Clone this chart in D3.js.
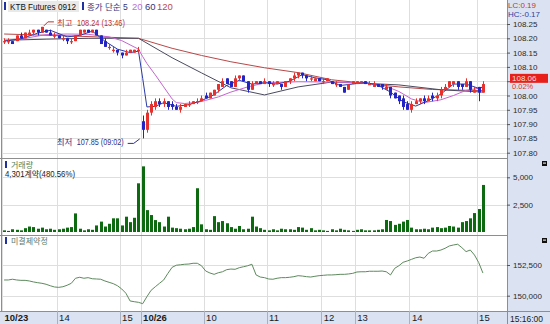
<!DOCTYPE html>
<html><head><meta charset="utf-8">
<script src="https://cdn.jsdelivr.net/npm/d3@7"></script>
<style>
body{margin:0;background:#fff}
svg{display:block}
text{font-family:"Liberation Sans","Noto Sans CJK KR",sans-serif}
</style>
</head><body>
<svg id="c" width="550" height="324"></svg>
<script>
// ---------------- DATA ----------------
const openP=[108.19,108.19,108.19,108.19,108.21,108.20,108.21,108.22,108.23,108.22,108.23,108.22,108.21,108.21,108.20,108.20,108.19,108.19,108.21,108.22,108.23,108.22,108.23,108.21,108.19,108.17,108.16,108.16,108.15,108.14,108.15,108.15,108.16,
107.91,107.88,107.94,107.96,107.98,107.97,107.98,107.97,107.96,107.95,107.96,107.97,107.97,107.98,107.98,
108.00,107.99,108.00,108.02,108.03,108.06,108.05,108.03,108.06,108.07,108.05,108.02,108.04,108.05,108.04,108.05,108.04,108.04,108.04,108.03,108.05,108.06,108.07,108.08,108.07,108.06,108.05,108.06,108.05,108.05,108.05,108.04,108.04,108.03,108.02,108.04,108.04,108.05,108.05,108.04,108.03,108.04,108.04,108.02,108.03,108.01,108.00,
107.99,107.97,107.95,107.97,107.98,107.99,107.98,108.00,107.99,108.00,108.02,108.03,108.04,108.05,108.04,108.03,108.05,108.01,108.03,108.01];
const highP=[108.20,108.20,108.19,108.21,108.22,108.22,108.23,108.23,108.23,108.24,108.23,108.23,108.22,108.21,108.21,108.20,108.20,108.21,108.23,108.23,108.23,108.23,108.23,108.21,108.20,108.18,108.17,108.16,108.15,108.16,108.16,108.16,108.17,
107.93,107.95,107.98,107.99,107.99,107.99,107.98,107.98,107.97,107.97,107.97,107.98,107.98,107.99,108.00,
108.01,108.01,108.02,108.04,108.06,108.06,108.05,108.07,108.07,108.07,108.05,108.05,108.05,108.05,108.06,108.05,108.05,108.05,108.04,108.05,108.06,108.08,108.08,108.08,108.07,108.07,108.06,108.06,108.06,108.06,108.05,108.05,108.04,108.03,108.04,108.05,108.05,108.05,108.05,108.05,108.05,108.04,108.04,108.04,108.03,108.01,108.00,
108.00,107.98,107.98,107.99,107.99,108.00,108.00,108.01,108.01,108.03,108.04,108.05,108.05,108.05,108.04,108.06,108.05,108.03,108.03,108.05];
const lowP=[108.18,108.18,108.18,108.19,108.20,108.20,108.21,108.21,108.21,108.22,108.22,108.21,108.20,108.20,108.19,108.18,108.18,108.19,108.21,108.22,108.22,108.22,108.21,108.18,108.17,108.16,108.15,108.14,108.13,108.14,108.15,108.15,108.15,
107.85,107.87,107.93,107.95,107.96,107.96,107.95,107.95,107.95,107.94,107.96,107.96,107.97,107.97,107.98,
107.99,107.99,108.00,108.01,108.03,108.04,108.03,108.03,108.05,108.05,108.01,108.02,108.04,108.04,108.04,108.03,108.03,108.04,108.02,108.03,108.04,108.05,108.06,108.06,108.05,108.05,108.05,108.05,108.04,108.05,108.04,108.03,108.03,108.01,108.02,108.04,108.04,108.04,108.04,108.04,108.03,108.03,108.02,108.02,107.99,107.99,107.97,
107.95,107.95,107.94,107.97,107.97,107.97,107.98,107.98,107.98,107.99,108.02,108.03,108.03,108.02,108.02,108.03,108.01,108.01,107.98,108.01];
const closeP=[108.19,108.19,108.18,108.21,108.20,108.22,108.22,108.23,108.22,108.24,108.22,108.21,108.21,108.20,108.20,108.19,108.19,108.21,108.23,108.23,108.22,108.23,108.21,108.18,108.17,108.17,108.16,108.15,108.14,108.15,108.16,108.16,108.16,
107.88,107.94,107.97,107.98,107.97,107.98,107.96,107.96,107.95,107.96,107.97,107.97,107.98,107.98,107.99,
107.99,108.01,108.02,108.04,108.05,108.04,108.03,108.06,108.07,108.05,108.02,108.04,108.05,108.04,108.05,108.04,108.04,108.05,108.03,108.05,108.06,108.07,108.08,108.07,108.06,108.06,108.06,108.05,108.05,108.06,108.04,108.04,108.03,108.01,108.04,108.05,108.05,108.05,108.04,108.04,108.04,108.03,108.03,108.03,108.00,107.99,107.98,
107.96,107.95,107.97,107.98,107.99,107.98,107.99,107.99,108.00,108.02,108.03,108.05,108.05,108.03,108.03,108.05,108.02,108.02,108.01,108.04];
const volume=[150,100,250,200,150,350,500,450,300,400,250,300,200,250,300,400,450,1700,300,150,250,200,600,950,500,750,1250,1250,600,1400,900,1300,4450,
6000,2000,1550,1090,900,500,1400,400,350,300,250,300,450,4000,700,
250,200,1450,900,1000,800,450,300,550,250,300,1400,500,350,200,150,250,150,300,250,250,200,450,400,200,350,150,200,150,100,250,150,300,200,150,100,200,250,150,150,150,200,250,1100,1000,650,750,
950,1100,400,250,250,300,250,400,450,350,400,550,500,400,900,1000,1250,1730,2100,4300];
const openInterest=[151280,151280,151340,151280,151250,151250,151200,151120,151060,151010,150930,150810,150710,150680,150730,150850,151010,151420,151500,151420,151470,151380,151360,151340,151200,151090,150980,150810,150550,150200,149570,149510,149460,
149350,149920,150440,150730,151010,151280,151820,152310,152480,152520,152560,152580,152640,152640,152440,
152010,151850,151740,151870,151950,152120,152170,152150,152280,152360,152440,152560,151690,151520,151470,151360,151340,151420,151470,151470,151500,151550,151630,151600,151550,151520,151580,151630,151660,151690,151690,151710,151740,151740,151770,151820,151930,151950,151950,151990,151990,151990,152010,151950,151690,152230,152440,
152720,152830,152960,153090,153150,153050,153450,153640,153640,153720,153860,154050,154130,154190,153910,153590,153720,153310,152700,151850];
// moving averages: [bar index, value]
const ma5=[[0,108.19],[4,108.198],[8,108.218],[11,108.228],[15,108.205],[18,108.21],[21,108.225],[24,108.19],[27,108.162],[30,108.15],[32,108.155],[33,108.06],[34,107.96],[36,107.962],[38,107.975],[41,107.962],[44,107.968],[47,107.982],[50,108.003],[53,108.035],[56,108.053],[59,108.04],[62,108.045],[65,108.04],[68,108.05],[71,108.073],[74,108.062],[77,108.055],[80,108.035],[83,108.04],[86,108.046],[89,108.036],[92,108.012],[95,107.978],[98,107.963],[101,107.982],[104,108.005],[107,108.04],[110,108.04],[113,108.025],[114,108.03]];
const ma20=[[0,108.193],[5,108.200],[10,108.213],[15,108.215],[20,108.214],[25,108.205],[28,108.192],[32,108.162],[33,108.136],[34,108.112],[36,108.072],[38,108.030],[40,107.988],[41,107.975],[43,107.972],[46,107.976],[48,107.983],[51,107.995],[54,108.012],[58,108.030],[62,108.044],[70,108.048],[78,108.047],[86,108.044],[91,108.032],[94,108.014],[97,107.988],[100,107.975],[104,107.985],[107,108.000],[110,108.018],[114,108.028]];
const ma60=[[0,108.193],[10,108.197],[20,108.200],[32,108.200],[40,108.132],[47,108.079],[54,108.027],[62,108.002],[70,108.030],[78,108.047],[84,108.044],[94,108.037],[104,108.020],[114,108.012]];
const ma120=[[0,108.215],[16,108.208],[32,108.200],[40,108.165],[47,108.140],[54,108.118],[62,108.097],[70,108.080],[78,108.055],[85,108.044],[94,108.030],[102,108.021],[114,108.017]];
const priceTicks=[107.80,107.85,107.90,107.95,108.00,108.05,108.10,108.15,108.20,108.25];
const volumeTicks=[2500,5000];
const oiTicks=[150000,152500];
const timeTickIndex=[0,13,28,33,48,63,76,84,97,113];
const timeTickLabels=["10/23","14","15","10/26","10","11","12","13","14","15"];
const boldTimeLabels=["10/23","10/26"];
const lastTimeLabel="15:16:00";
const currentPrice=108.06, changeText="0.02%";
const lcText="LC:0.19", hcText="HC:-0.17";
const titleText="KTB Futures 0912";
const maLegend=["종가 단순 5","20","60","120"];
const maColors=["#34347a","#c070d0","#34347a","#c04848"];
const volumeTitle="거래량", volumeNote="4,301계약(480.56%)";
const oiTitle="미결제약정";
const highNote={i:9,price:108.24,label:"최고",rest:"108.24 (13:46)"};
const lowNote={i:33,price:107.85,label:"최저",rest:"107.85 (09:02)"};

// ---------------- SCALES ----------------
const svg=d3.select("#c");
const L=2,R=507;
const x=d3.scaleLinear().domain([0,120.24]).range([L,R]);
const cx=i=>x(i+0.5);
const yP=d3.scaleLinear().domain([107.80,108.25]).range([152.7,24]);
const yV=d3.scaleLinear().domain([0,5000]).range([232,177.3]);
const yOI=d3.scaleLinear().domain([150000,152500]).range([295.7,265]);
const axisBg="#dbe2f2";
const axFont=8;

// backgrounds
svg.append("rect").attr("x",0).attr("y",0).attr("width",550).attr("height",324).attr("fill","#fff");
svg.append("rect").attr("x",R).attr("y",0).attr("width",550-R).attr("height",324).attr("fill",axisBg);
svg.append("rect").attr("x",0).attr("y",311).attr("width",R).attr("height",13).attr("fill",axisBg);

// grids
const g=svg.append("g");
const gridC="#dedede";
g.selectAll(".vg").data(timeTickIndex).join("line")
 .attr("x1",d=>Math.round(x(d))+0.5).attr("x2",d=>Math.round(x(d))+0.5)
 .attr("y1",0).attr("y2",311).attr("stroke",gridC);
g.selectAll(".hp").data(priceTicks).join("line")
 .attr("x1",L).attr("x2",R).attr("y1",d=>Math.round(yP(d))+0.5).attr("y2",d=>Math.round(yP(d))+0.5).attr("stroke",gridC);
g.selectAll(".hv").data(volumeTicks).join("line")
 .attr("x1",L).attr("x2",R).attr("y1",d=>Math.round(yV(d))+0.5).attr("y2",d=>Math.round(yV(d))+0.5).attr("stroke",gridC);
g.selectAll(".ho").data(oiTicks).join("line")
 .attr("x1",L).attr("x2",R).attr("y1",d=>Math.round(yOI(d))+0.5).attr("y2",d=>Math.round(yOI(d))+0.5).attr("stroke",gridC);

// panel borders
const bc="#8e8e8e";
[[0,158.5,R,158.5],[0,235.5,R,235.5],[0,311.5,550,311.5],[R+0.5,0,R+0.5,324],[1.5,0,1.5,311]].forEach(l=>{
  svg.append("line").attr("x1",l[0]).attr("y1",l[1]).attr("x2",l[2]).attr("y2",l[3]).attr("stroke",bc);
});
svg.selectAll(".ts").data(timeTickIndex.slice(1)).join("line")
 .attr("x1",d=>Math.round(x(d))+0.5).attr("x2",d=>Math.round(x(d))+0.5)
 .attr("y1",311).attr("y2",324).attr("stroke","#a8b0c4");

// ---------------- MOVING AVERAGES ----------------
const line=d3.line().x(d=>cx(d[0])).y(d=>yP(d[1]));
[[ma120,"#b84848"],[ma60,"#4a4a60"],[ma20,"#c466d0"],[ma5,"#2a3aa8"]].forEach(([d,c])=>{
  svg.append("path").datum(d).attr("d",line).attr("fill","none").attr("stroke",c).attr("stroke-width",1);
});

// ---------------- CANDLES ----------------
const up="#e8302c", dn="#2424c4";
const bars=d3.range(closeP.length);
const cg=svg.append("g");
cg.selectAll(".wk").data(bars).join("line")
 .attr("x1",i=>Math.round(cx(i))+0.5).attr("x2",i=>Math.round(cx(i))+0.5)
 .attr("y1",i=>yP(highP[i])).attr("y2",i=>yP(lowP[i]))
 .attr("stroke",i=>closeP[i]>=openP[i]?up:dn);
cg.selectAll(".bd").data(bars).join("rect")
 .attr("x",i=>Math.round(cx(i))-1).attr("width",3)
 .attr("y",i=>yP(Math.max(openP[i],closeP[i])))
 .attr("height",i=>Math.max(1.2,yP(Math.min(openP[i],closeP[i]))-yP(Math.max(openP[i],closeP[i]))))
 .attr("fill",i=>closeP[i]>=openP[i]?up:dn);

// annotations
const hx=cx(highNote.i), hy=yP(highNote.price);
svg.append("polyline").attr("points",`${hx+2},${hy-1} ${hx+6},${hy-5} ${hx+12},${hy-5}`).attr("fill","none").attr("stroke","#c03030");
svg.append("text").attr("x",hx+15).attr("y",hy-1).attr("fill","#c03030").attr("font-size",8.5)
 .attr("font-family","Noto Sans CJK KR").text(highNote.label);
svg.append("text").attr("x",hx+35).attr("y",hy-1).attr("fill","#c03030").attr("font-size",9)
 .attr("textLength",48).attr("lengthAdjust","spacingAndGlyphs").text(highNote.rest);
const lx=cx(lowNote.i), ly=yP(lowNote.price);
svg.append("polyline").attr("points",`${lx-15},${ly+5} ${lx-9},${ly+5} ${lx-3},${ly+0.5}`).attr("fill","none").attr("stroke","#30308a");
svg.append("text").attr("x",lx-86).attr("y",ly+6.5).attr("fill","#30308a").attr("font-size",8.5)
 .attr("font-family","Noto Sans CJK KR").text(lowNote.label);
svg.append("text").attr("x",lx-66).attr("y",ly+6.5).attr("fill","#30308a").attr("font-size",9)
 .attr("textLength",47).attr("lengthAdjust","spacingAndGlyphs").text(lowNote.rest);

// ---------------- VOLUME ----------------
svg.append("g").selectAll("rect").data(bars).join("rect")
 .attr("x",i=>Math.round(cx(i))-1).attr("width",3)
 .attr("y",i=>yV(volume[i])).attr("height",i=>yV(0)-yV(volume[i]))
 .attr("fill","#0d6a10");

// ---------------- OPEN INTEREST ----------------
svg.append("path").datum(openInterest)
 .attr("d",d3.line().x((d,i)=>cx(i)).y(d=>yOI(d)))
 .attr("fill","none").attr("stroke","#5d8a5d").attr("stroke-width",1);

// ---------------- AXES ----------------
function styleAxis(sel){
  sel.select(".domain").remove();
  sel.selectAll(".tick line").attr("stroke","#555");
  sel.selectAll(".tick text").attr("fill","#2a2a2a").attr("font-size",axFont)
    .attr("font-family","Liberation Sans, sans-serif");
}
const pAx=svg.append("g").attr("transform",`translate(${R},0)`)
 .call(d3.axisRight(yP).tickValues(priceTicks).tickSize(3).tickPadding(3).tickFormat(d3.format(".2f")));
styleAxis(pAx);
pAx.selectAll(".tick").filter(d=>Math.abs(yP(d)-yP(currentPrice))<7).select("text").remove();
const vAx=svg.append("g").attr("transform",`translate(${R},0)`)
 .call(d3.axisRight(yV).tickValues(volumeTicks).tickSize(3).tickPadding(3).tickFormat(d3.format(",")));
styleAxis(vAx);
const oAx=svg.append("g").attr("transform",`translate(${R},0)`)
 .call(d3.axisRight(yOI).tickValues(oiTicks).tickSize(3).tickPadding(3).tickFormat(d3.format(",")));
styleAxis(oAx);
const tAx=svg.append("g").attr("transform","translate(0,311)")
 .call(d3.axisBottom(x).tickValues(timeTickIndex).tickSize(0).tickFormat((d,i)=>timeTickLabels[i]));
tAx.select(".domain").remove();
tAx.selectAll(".tick text").attr("text-anchor","start").attr("x",2).attr("y",0).attr("dy","10.3px")
 .attr("font-size",9.5).attr("fill","#1a1a1a")
 .attr("font-family","Liberation Sans, sans-serif")
 .attr("font-weight",d=>boldTimeLabels.includes(timeTickLabels[timeTickIndex.indexOf(d)])?"bold":"normal");
svg.append("text").attr("x",R+3).attr("y",321.5).attr("font-size",9).attr("fill","#1a1a1a")
 .attr("textLength",33).attr("lengthAdjust","spacingAndGlyphs").text(lastTimeLabel);

// current price box
const cpy=yP(currentPrice);
svg.append("rect").attr("x",R+3).attr("y",cpy-4.5).attr("width",38).attr("height",9).attr("fill","#e8201c");
svg.append("text").attr("x",R+5).attr("y",cpy+2.5).attr("font-size",8).attr("fill","#ffd8d8").text(d3.format(".2f")(currentPrice));
svg.append("text").attr("x",R+5).attr("y",cpy+11).attr("font-size",7.5).attr("fill","#e03030").text(changeText);
svg.append("text").attr("x",R+1).attr("y",7.5).attr("font-size",8).attr("fill","#d03030").text(lcText);
svg.append("text").attr("x",R+1).attr("y",16.5).attr("font-size",8).attr("fill","#3040a0").text(hcText);

// small panel icons
[163,240].forEach(yy=>{
  svg.append("rect").attr("x",542).attr("y",yy-2).attr("width",5).attr("height",5).attr("fill","#111");
  svg.append("rect").attr("x",543).attr("y",yy-0.5).attr("width",3).attr("height",1.2).attr("fill","#ddd");
});

// ---------------- HEADERS ----------------
svg.append("rect").attr("x",8).attr("y",1).attr("width",71).attr("height",11).attr("fill","#e9e9e9");
svg.append("rect").attr("x",4).attr("y",2).attr("width",2).attr("height",8).attr("fill","#2030a0");
svg.append("text").attr("x",10).attr("y",10).attr("font-size",9.5).attr("fill","#111")
 .attr("textLength",66).attr("lengthAdjust","spacingAndGlyphs").text(titleText);
svg.append("rect").attr("x",82).attr("y",2).attr("width",2).attr("height",8).attr("fill","#2030a0");
const legX=[87,132,145,157];
maLegend.forEach((t,k)=>{
  svg.append("text").attr("x",legX[k]).attr("y",10).attr("fill",maColors[k])
   .attr("font-size",k===0?8.5:9.5).attr("font-family",k===0?"Noto Sans CJK KR":null).text(t);
});
// volume header
svg.append("rect").attr("x",5).attr("y",161).attr("width",2).attr("height",7).attr("fill","#2030a0");
svg.append("text").attr("x",11).attr("y",167.5).attr("font-size",8).attr("font-family","Noto Sans CJK KR").attr("fill","#4f7f4f").text(volumeTitle);
svg.append("text").attr("x",5).attr("y",176.5).attr("font-size",8.5).attr("fill","#222")
 .attr("textLength",70).attr("lengthAdjust","spacingAndGlyphs").text(volumeNote);
// OI header
svg.append("rect").attr("x",5).attr("y",237).attr("width",2).attr("height",7).attr("fill","#2030a0");
svg.append("text").attr("x",11).attr("y",243.5).attr("font-size",8).attr("font-family","Noto Sans CJK KR").attr("fill","#5a7a6a").text(oiTitle);
</script>
</body></html>
